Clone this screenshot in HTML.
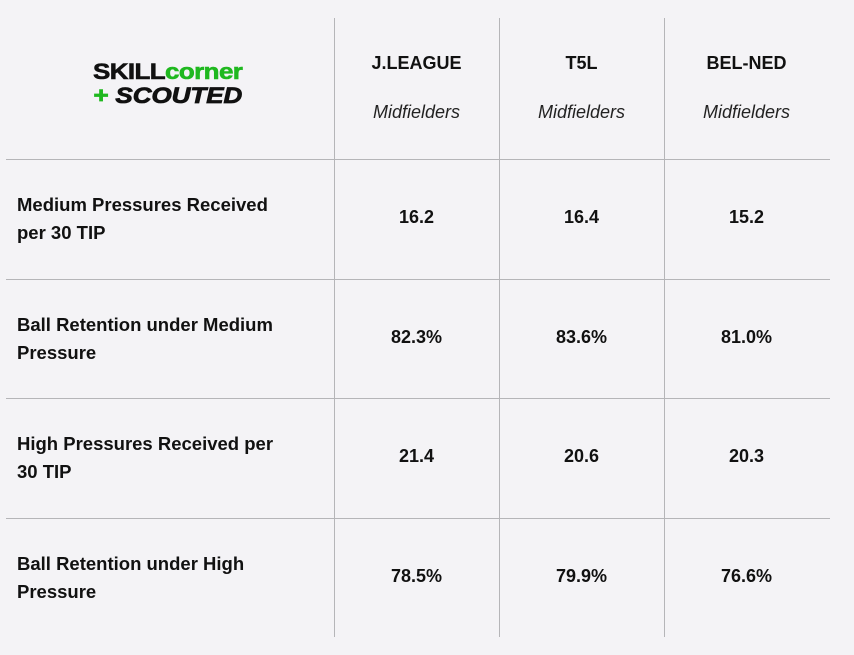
<!DOCTYPE html>
<html><head><meta charset="utf-8"><style>
body{margin:0;width:854px;height:655px;background:#f4f3f6;font-family:"Liberation Sans",sans-serif;color:#111;position:relative;overflow:hidden}
.v{position:absolute;width:1px;top:18px;height:619px;background:#b5b5b8}
.h{position:absolute;height:1px;left:6px;width:824px;background:#b5b5b8}
.t{position:absolute;text-align:center;width:165px;font-weight:bold;font-size:18px}
.it{position:absolute;text-align:center;width:165px;font-style:italic;font-size:18px;color:#222}
.r{position:absolute;left:17px;width:320px;font-weight:bold;font-size:18.5px;line-height:28px;white-space:nowrap}
</style></head><body>
<div style="position:absolute;left:93px;top:60px;line-height:24px;transform:scaleX(1.18);transform-origin:left top">
<div style="font-weight:900;font-size:22px;letter-spacing:-0.5px;-webkit-text-stroke:0.6px currentColor"><span style="color:#111">SKILL</span><span style="color:#1fb81f">corner</span></div>
<div style="font-weight:900;font-style:italic;font-size:22px;-webkit-text-stroke:0.8px currentColor"><span style="color:#1fb81f">+</span> SCOUTED</div>
</div>
<div class="v" style="left:334px"></div>
<div class="v" style="left:499px"></div>
<div class="v" style="left:664px"></div>
<div class="h" style="top:159px"></div>
<div class="h" style="top:279px"></div>
<div class="h" style="top:398px"></div>
<div class="h" style="top:518px"></div>
<div class="t" style="left:334px;top:53px">J.LEAGUE</div>
<div class="t" style="left:499px;top:53px">T5L</div>
<div class="t" style="left:664px;top:53px">BEL-NED</div>
<div class="it" style="left:334px;top:102px">Midfielders</div>
<div class="it" style="left:499px;top:102px">Midfielders</div>
<div class="it" style="left:664px;top:102px">Midfielders</div>
<div class="r" style="top:191px">Medium Pressures Received<br>per 30 TIP</div>
<div class="r" style="top:311px">Ball Retention under Medium<br>Pressure</div>
<div class="r" style="top:430px">High Pressures Received per<br>30 TIP</div>
<div class="r" style="top:550px">Ball Retention under High<br>Pressure</div>
<div class="t" style="left:334px;top:207px">16.2</div>
<div class="t" style="left:499px;top:207px">16.4</div>
<div class="t" style="left:664px;top:207px">15.2</div>
<div class="t" style="left:334px;top:327px">82.3%</div>
<div class="t" style="left:499px;top:327px">83.6%</div>
<div class="t" style="left:664px;top:327px">81.0%</div>
<div class="t" style="left:334px;top:446px">21.4</div>
<div class="t" style="left:499px;top:446px">20.6</div>
<div class="t" style="left:664px;top:446px">20.3</div>
<div class="t" style="left:334px;top:566px">78.5%</div>
<div class="t" style="left:499px;top:566px">79.9%</div>
<div class="t" style="left:664px;top:566px">76.6%</div>
</body></html>
